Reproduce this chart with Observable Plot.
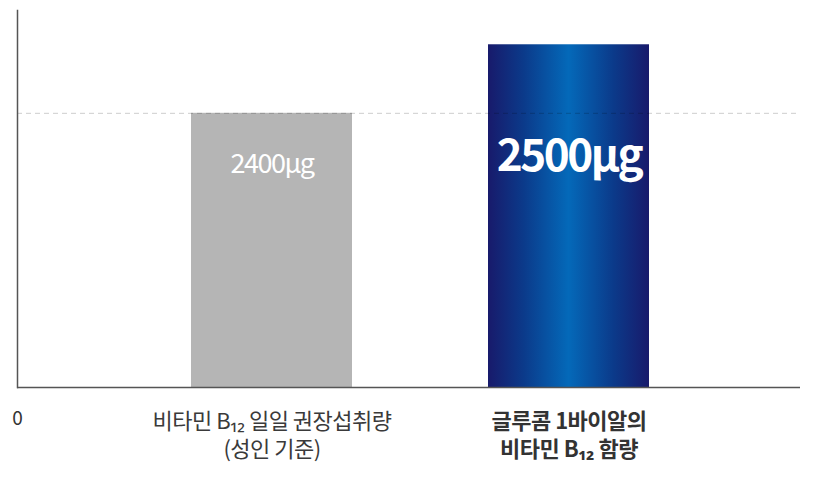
<!DOCTYPE html>
<html><head><meta charset="utf-8">
<script src="https://cdn.jsdelivr.net/npm/d3@7"></script>
<script src="https://cdn.jsdelivr.net/npm/@observablehq/plot@0.6"></script>
<style>
body{margin:0;background:#fff;}
svg{font-family:"Noto Sans CJK KR","Noto Sans",sans-serif;}
g[font-size="27"]{letter-spacing:-1.5px;}
g[font-size="44"]{letter-spacing:-2.5px;}
g[font-size="22"]{letter-spacing:-0.5px;}
</style></head>
<body><div id="chart"></div>
<script>
const categories = ["비타민 B₁₂ 일일 권장섭취량\n(성인 기준)", "글루콤 1바이알의\n비타민 B₁₂ 함량"];
const values = [2400, 2500];
const valueLabels = ["2400µg", "2500µg"];
const fills = ["#b5b5b5", "url(#blueGrad)"];
const referenceValue = 2400;
const yMin = 2000, yMax = 2550;
const originLabel = "0";

const data = categories.map((c, i) => ({cat: c, value: values[i], label: valueLabels[i], fill: fills[i], i}));

const defs = () => {
  const g = d3.create("svg:defs");
  const lg = g.append("linearGradient").attr("id", "blueGrad").attr("x1", "0").attr("x2", "1").attr("y1", "0").attr("y2", "0");
  [[0, "#181a6b"], [0.22, "#0b3a8a"], [0.5, "#0469b9"], [0.78, "#0b3a8a"], [1, "#181a6b"]]
    .forEach(([o, c]) => lg.append("stop").attr("offset", o).attr("stop-color", c));
  return g.node();
};

const chart = Plot.plot({
  width: 813, height: 479,
  marginLeft: 17, marginRight: 13, marginTop: 10, marginBottom: 92,
  x: {domain: categories, range: [123, 717], paddingInner: 0.458, paddingOuter: 0.229, axis: null},
  y: {domain: [yMin, yMax], axis: null},
  style: {background: "#fff", overflow: "visible"},
  marks: [
    defs,
    Plot.barY(data, {x: "cat", y1: yMin, y2: "value", fill: d => d.fill}),
    Plot.ruleY([referenceValue], {stroke: "#000", strokeOpacity: 0.2, strokeDasharray: "5,4", strokeWidth: 1}),
    Plot.ruleY([yMin], {stroke: "#555", strokeWidth: 1.5}),
    Plot.frame({anchor: "left", stroke: "#555", strokeWidth: 1.5}),
    Plot.text(data.filter(d => d.i === 0), {x: "cat", text: "label", frameAnchor: "top", lineAnchor: "middle", dy: 154, fill: "#fff", fontSize: 27}),
    Plot.text(data.filter(d => d.i === 1), {x: "cat", text: "label", frameAnchor: "top", lineAnchor: "middle", dy: 146, fill: "#fff", fontSize: 44, fontWeight: 700}),
    Plot.text(data.filter(d => d.i === 0), {x: "cat", text: "cat", frameAnchor: "bottom", lineAnchor: "top", dy: 22, lineHeight: 1.27, fill: "#3a3a3a", fontSize: 22}),
    Plot.text(data.filter(d => d.i === 1), {x: "cat", text: "cat", frameAnchor: "bottom", lineAnchor: "top", dy: 22, lineHeight: 1.27, fill: "#333", fontSize: 22, fontWeight: 700}),
    Plot.text([originLabel], {frameAnchor: "bottom-left", lineAnchor: "top", dy: 24, textAnchor: "middle", fill: "#333", fontSize: 19})
  ]
});
document.getElementById("chart").appendChild(chart);
</script></body></html>
